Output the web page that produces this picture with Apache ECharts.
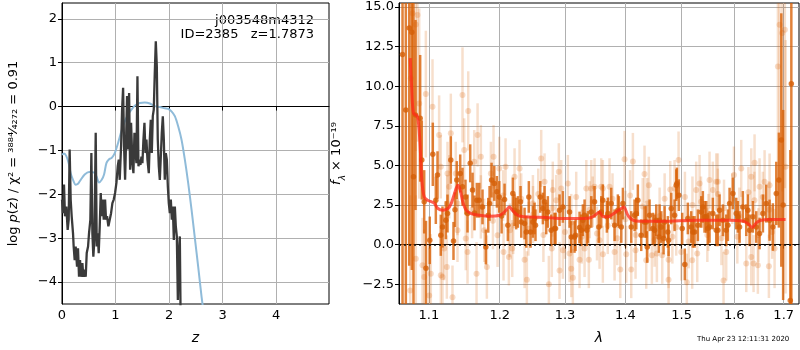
<!DOCTYPE html>
<html lang="en">
<head>
<meta charset="UTF-8">
<title>j003548m4312 ID=2385</title>
<script src="https://cdn.jsdelivr.net/npm/echarts@6.0.0/dist/echarts.min.js"></script>
</head>
<body style="margin:0">
<div id="container" style="width:800px;height:350px"></div>
<script>
// left panel: log p(z) from chi2 (dark) and smooth prior-weighted curve (blue)
var zChi = [0, 0.019, 0.037, 0.056, 0.081, 0.106, 0.125, 0.143, 0.162, 0.181, 0.206, 0.218, 0.237, 0.256, 0.281, 0.299,
    0.318, 0.337, 0.356, 0.381, 0.399, 0.418, 0.443, 0.462, 0.487, 0.505, 0.530, 0.549, 0.568, 0.586, 0.605, 0.630,
    0.649, 0.667, 0.686, 0.705, 0.724, 0.742, 0.761, 0.780, 0.805, 0.823, 0.842, 0.867, 0.892, 0.917, 0.942, 0.967,
    0.992, 1.017, 1.042, 1.061, 1.079, 1.104, 1.123, 1.142, 1.160, 1.179, 1.198, 1.216, 1.235, 1.254, 1.273, 1.291,
    1.316, 1.335, 1.354, 1.372, 1.391, 1.410, 1.429, 1.447, 1.466, 1.485, 1.503, 1.522, 1.541, 1.560, 1.578, 1.597,
    1.622, 1.641, 1.659, 1.678, 1.697, 1.715, 1.734, 1.753, 1.772, 1.790, 1.809, 1.828, 1.847, 1.865, 1.884, 1.903,
    1.921, 1.940, 1.959, 1.978, 1.996, 2.015, 2.034, 2.052, 2.071, 2.090, 2.109, 2.127, 2.146, 2.165, 2.184, 2.202,
    2.215, 2.25, 2.3];
var logpChi = [-2.12, -2.43, -1.78, -2.5, -2.28, -2.81, -2.58, -0.98, -2.12, -2.5, -2.89, -3.19, -3.5, -3.19, -3.65, -3.23,
    -3.88, -3.5, -3.88, -3.57, -3.88, -3.72, -3.88, -3.34, -3.19, -2.89, -2.58, -1.06, -2.89, -3.42, -3.04, -0.6,
    -3.19, -2.89, -3.34, -2.73, -1.97, -2.5, -2.12, -2.58, -2.12, -2.58, -2.5, -2.73, -2.58, -2.43, -2.2, -2.12,
    -1.97, -1.74, -1.36, -1.21, -1.67, -0.91, -0.07, 0.43, -0.91, -1.67, -0.75, 0.24, -0.98, 0.31, -1.44, -0.37,
    -1.29, -1.52, -0.6, -0.98, -1.29, 0.69, -1.36, -1.21, -1.33, -1.14, -1.29, -0.75, -0.37, -1.06, -0.75, -1.21,
    -1.52, -0.75, -0.3, -1.06, -0.22, -0.07, 0.77, 1.49, 0.92, -0.75, -1.36, -1.67, -1.14, -0.6, -0.22, -0.75,
    -1.67, -1.06, -1.21, -1.82, -2.2, -2.43, -2.12, -2.58, -2.28, -3.04, -2.28, -2.73, -2.96, -4.41, -3.34, -2.96,
    -4.6, -6, -8];
var zPrior = [0, 0.037, 0.081, 0.125, 0.162, 0.206, 0.256, 0.299, 0.349, 0.424, 0.505, 0.593, 0.643, 0.692, 0.742,
    0.786, 0.830, 0.880, 0.930, 0.986, 1.048, 1.111, 1.173, 1.235, 1.298, 1.360, 1.454, 1.547, 1.641, 1.734, 1.828,
    1.921, 1.984, 2.046, 2.109, 2.171, 2.233, 2.296, 2.358, 2.421, 2.483, 2.545, 2.608, 2.640, 2.7, 2.8];
var logpPrior = [-1.1, -1.07, -1.13, -1.29, -1.52, -1.67, -1.78, -1.76, -1.67, -1.55, -1.49, -1.5, -1.59, -1.73, -1.67,
    -1.55, -1.29, -1.2, -1.17, -1.06, -0.83, -0.56, -0.34, -0.18, -0.07, 0.02, 0.08, 0.09, 0.07, 0.01, -0.01,
    -0.04, -0.05, -0.11, -0.22, -0.45, -0.75, -1.21, -1.74, -2.35, -3.0, -3.65, -4.33, -4.64, -5.3, -6.5];
var zTicks = [0, 1, 2, 3, 4];
var logpTicks = [-4, -3, -2, -1, 0, 1, 2];

// right panel: spectrum points (dark / faint), their errors, and the model
var wDark = [1.0651, 1.0694, 1.0739, 1.0773, 1.0795, 1.0822, 1.0884, 1.0906, 1.0938, 1.0962, 1.1013, 1.1054, 1.1095,
    1.1118, 1.1163, 1.1186, 1.1232, 1.1255, 1.1301, 1.1338, 1.1384, 1.1432, 1.1464, 1.1535, 1.1573, 1.1606, 1.1668,
    1.1702, 1.1749, 1.1797, 1.1832, 1.1880, 1.1920, 1.1958, 1.1993, 1.2071, 1.2120, 1.2194, 1.2220, 1.2270, 1.2310,
    1.2371, 1.2436, 1.2462, 1.2498, 1.2538, 1.2611, 1.2678, 1.2729, 1.2782, 1.2834, 1.2913, 1.2966, 1.3073, 1.3100,
    1.3153, 1.3234, 1.3262, 1.3316, 1.3370, 1.3426, 1.3480, 1.3551, 1.3591, 1.3618, 1.3702, 1.3815, 1.3871, 1.3929,
    1.3957, 1.4100, 1.4158, 1.4215, 1.4274, 1.4332, 1.4380, 1.4421, 1.4480, 1.4540, 1.4587, 1.4630, 1.4689, 1.4761,
    1.4810, 1.4870, 1.4912, 1.4948, 1.5010, 1.5058, 1.5114, 1.5177, 1.5239, 1.5301, 1.5365, 1.5395, 1.5459, 1.5522,
    1.5585, 1.5650, 1.5714, 1.5778, 1.5843, 1.5908, 1.5973, 1.6039, 1.6104, 1.6169, 1.6237, 1.6303, 1.6369, 1.6437,
    1.6504, 1.6572, 1.6640, 1.6708, 1.6776, 1.6846, 1.6900, 1.6950, 1.6988, 1.7138, 1.7160,
    1.2245, 1.2321, 1.2397, 1.2523, 1.2652, 1.2704, 1.2850, 1.3169, 1.3288, 1.3354, 1.3685, 1.3759, 1.3888, 1.4188,
    1.4362, 1.4510, 1.4599, 1.4671, 1.4748, 1.4901, 1.5207, 1.5427, 1.5490, 1.5681, 1.5875, 1.6071, 1.6269,
    1.1359, 1.1506, 1.1634, 1.1851, 1.2027];
var fDark = [12.0, 8.5, 13.67, 13.4, 4.28, 8.18, 7.97, 5.34, 2.7, -1.5, 0.27, 5.7, 2.8,
    4.39, 0.59, 1.11, 1.54, 1.96, 5.34, 0.23, 4.07, 4.49, 3.65, 1.96, 5.13, 3.44, 2.8,
    2.8, 2.38, -0.15, 1.85, 4.07, 3.86, 3.33, 3.01, 2.85, 1.22, 3.23, 2.17, 2.06, 2.7,
    1.33, 3.01, 0.8, 1.43, 1.22, 3.01, 2.7, 2.06, 0.9, 1.01, 2.17, 2.38, 2.06, 0.48,
    0.48, 1.08, 0.9, 1.85, 1.11, 2.06, 2.7, 1.11, 2.06, 2.8, 1.96, 1.22, 2.17, 1.11,
    2.59, 1.11, 1.85, 2.8, 0.59, 1.43, -0.15, 1.85, 1.01, 1.54, 0.48, 1.11, 1.43, 0.27,
    2.28, 1.85, 3.86, 3.12, 1.01, -1.25, 1.65, 1.11, 0.8, 1.22, 2.06, 2.38, 1.75, 1.11,
    1.96, 0.9, 2.17, 1.54, 0.9, 2.59, 3.23, 1.96, 1.11, 2.38, 1.54, 0.9, 1.75, 1.11,
    0.7, 1.96, 2.59, 1.54, 1.11, 3.23, 4.07, 6.6, 2.5, -3.53, 10.15,
    1.96, 1.43, 0.8, 1.65, 2.28, 1.65, 1.01, 0.59, 1.54, 0.9, 1.75, 2.59, 2.06, 1.96,
    1.43, 0.9, 1.54, 0.38, 0.8, 3.75, 0.8, 1.75, 1.01, 0.9, 1.22, 1.75, 2.17,
    2.2, 3.0, 2.0, 2.6, 1.8];
var eDark = [20, 20, 15, 15, 12, 6, 4, 2.5, 2, 3, 1.5, 2, 1.5,
    1.5, 1.3, 1.3, 1.2, 1.2, 1.5, 1.2, 1.2, 1.2, 1.2, 1.2, 1.2, 1.1, 1.1,
    1.1, 1.1, 1.1, 1.1, 1.1, 1.1, 1.0, 1.0, 1.0, 1.0, 1.0, 1.0, 1.0, 1.0,
    1.0, 1.0, 1.0, 1.0, 1.0, 1.0, 1.0, 1.0, 1.0, 1.0, 1.0, 1.0, 1.0, 1.0,
    1.0, 1.0, 1.0, 1.0, 1.0, 1.0, 1.0, 1.0, 1.0, 1.0, 1.0, 1.0, 1.0, 1.0,
    1.0, 1.0, 1.0, 1.0, 1.0, 1.0, 1.0, 1.0, 1.0, 1.0, 1.0, 1.0, 1.0, 1.0,
    1.0, 1.0, 1.0, 1.0, 1.0, 1.0, 1.0, 1.0, 1.0, 1.0, 1.0, 1.0, 1.0, 1.0,
    1.0, 1.0, 1.0, 1.0, 1.0, 1.0, 1.0, 1.0, 1.0, 1.0, 1.0, 1.0, 1.0, 1.0,
    1.0, 1.2, 1.2, 1.3, 1.5, 2, 3, 8, 6, 9.5, 15,
    1.0, 1.0, 1.0, 1.0, 1.0, 1.0, 1.0, 1.0, 1.0, 1.0, 1.0, 1.0, 1.0, 1.0,
    1.0, 1.0, 1.0, 1.0, 1.0, 1.0, 1.0, 1.0, 1.0, 1.0, 1.0, 1.0, 1.0,
    1.1, 1.1, 1.1, 1.1, 1.1];

var wLight = [1.0752, 1.0760, 1.0782, 1.0826, 1.0826, 1.0848, 1.0871, 1.0915, 1.0938, 1.0960, 1.1005, 1.1027, 1.1050,
    1.1140, 1.1163, 1.1163, 1.1186, 1.1209, 1.1246, 1.1255, 1.1279, 1.1301, 1.1324, 1.1370, 1.1394, 1.1394, 1.1464,
    1.1488, 1.1510, 1.1535, 1.1545, 1.1630, 1.1663, 1.1678, 1.1725, 1.1725, 1.1774, 1.1812, 1.1870, 1.1909, 1.1968,
    1.1993, 1.2056, 1.2086, 1.2135, 1.2185, 1.2220, 1.2295, 1.2371, 1.2406, 1.2498, 1.2626, 1.2678, 1.2745, 1.2791,
    1.2807, 1.2902, 1.2913, 1.2940, 1.2966, 1.3046, 1.3073, 1.3100, 1.3126, 1.3234, 1.3316, 1.3386, 1.3426, 1.3480,
    1.3563, 1.3591, 1.3618, 1.3730, 1.3815, 1.3912, 1.3985, 1.4014, 1.4100, 1.4129, 1.4175, 1.4332, 1.4362, 1.4408,
    1.4462, 1.4551, 1.4647, 1.4761, 1.4761, 1.4791, 1.4870, 1.4943, 1.4992, 1.5095, 1.5195, 1.5270, 1.5289, 1.5333,
    1.5522, 1.5585, 1.5650, 1.5791, 1.5843, 1.5993, 1.6137, 1.6237, 1.6337, 1.6337, 1.6383, 1.6403, 1.6470, 1.6504,
    1.6606, 1.6694, 1.6708, 1.6811, 1.6879, 1.6914, 1.6970, 1.7024, 1.7039,
    1.125, 1.16, 1.19, 1.22, 1.25, 1.28, 1.31, 1.34, 1.37, 1.40, 1.43, 1.46, 1.49, 1.52, 1.55, 1.58, 1.61, 1.64, 1.67,
    1.205, 1.215, 1.232, 1.243, 1.258, 1.266, 1.286, 1.300, 1.318, 1.327, 1.345, 1.352, 1.378, 1.386, 1.408, 1.418,
    1.438, 1.451, 1.469, 1.483, 1.506, 1.513, 1.536, 1.548, 1.568, 1.575, 1.596, 1.606, 1.628, 1.648, 1.657, 1.676,
    1.3344, 1.3618, 1.5681];
var fLight = [-2.89, 10.5, 14.6, 13.9, -0.89, 14.5, 8.9, -1.31, -2.05, 9.5, -3.21, -1.84, 8.7,
    6.92, 4.91, -1.94, -2.05, -0.25, -1.42, 4.49, 3.65, 7.03, -3.32, 4.49, 0.9, 2.59, 9.45,
    5.97, 0.38, -0.47, 8.44, 5.23, -1.84, 6.92, 5.54, 2.38, 0.9, -1.42, 4.49, 5.54, 0.59,
    4.81, -0.47, 4.91, -0.78, -0.25, 4.28, 4.81, -0.95, -2.22, 2.59, 5.44, 3.96, -2.51, -0.25,
    3.44, 4.6, -1.63, 3.54, -0.36, 3.86, -0.57, -1.52, -2.09, -0.95, -0.25, -0.95, 3.54, 3.65,
    0.27, 3.65, -0.61, 3.65, -0.47, -1.58, 5.38, -0.61, -1.58, 5.25, -0.36, 4.45, -0.99, 3.75,
    -0.68, -0.57, -0.68, -2.22, -0.95, 3.48, 3.54, 5.34, -0.47, -2.37, -0.99, 3.44, -0.57, 3.86,
    4.07, 3.44, 3.96, -2.26, -0.47, 4.39, 4.81, -1.2, 4.28, -0.78, -1.2, 5.16, -1.31, 3.65,
    3.96, -1.37, 3.75, -0.25, 11.24, 13.88, 13.35, 13.56, 4.91,
    2.6, 2.2, 1.5, 1.2, 1.9, 2.3, 1.4, 2.2, 1.2, 1.6, 2.4, 1.8, 1.1, 2.5, 1.4, 2.3, 1.8, 2.8, 2.2,
    3.1, 0.9, 2.9, 1.0, 3.2, 0.6, 2.8, 0.8, 3.0, 0.5, 2.7, 0.7, 2.9, 0.4, 3.1, 0.6,
    2.6, 0.3, 2.9, 0.5, 3.0, 0.2, 2.7, 0.6, 3.2, 0.4, 2.9, 0.5, 3.3, 0.6, 3.0, 0.8,
    3.54, 3.54, 3.96];
var eLight = [6, 8, 8, 8, 4, 8, 6, 3, 3, 4, 3, 2.5, 3,
    2.5, 2, 2, 2, 2, 2, 2, 2, 2.5, 2, 2, 2, 2, 3,
    2, 2, 2, 2.5, 2, 2, 2, 2, 2, 2, 2, 2, 2, 2,
    2, 1.8, 1.8, 1.8, 1.8, 1.8, 1.8, 1.8, 1.8, 1.8, 1.8, 1.8, 1.8, 1.8,
    1.8, 1.8, 1.8, 1.8, 1.8, 1.8, 1.8, 1.8, 1.8, 1.8, 1.8, 1.8, 1.8, 1.8,
    1.8, 1.8, 1.8, 1.8, 1.8, 1.8, 1.8, 1.8, 1.8, 1.8, 1.8, 1.8, 1.8, 1.8,
    1.8, 1.8, 1.8, 1.8, 1.8, 1.8, 1.8, 1.8, 1.8, 1.8, 1.8, 1.8, 1.8, 1.8,
    1.8, 1.8, 1.8, 1.8, 1.8, 1.8, 1.8, 1.8, 1.8, 1.8, 1.8, 1.8, 1.8, 1.8,
    2, 2, 2, 2.5, 10, 10, 10, 10, 8,
    1.8, 1.8, 1.8, 1.8, 1.8, 1.8, 1.8, 1.8, 1.8, 1.8, 1.8, 1.8, 1.8, 1.8, 1.8, 1.8, 1.8, 1.8, 1.8,
    1.6, 1.7, 1.6, 1.7, 1.6, 1.7, 1.6, 1.7, 1.6, 1.7, 1.6, 1.7, 1.6, 1.7, 1.6, 1.7,
    1.6, 1.7, 1.6, 1.7, 1.6, 1.7, 1.6, 1.7, 1.6, 1.7, 1.6, 1.7, 1.6, 1.7, 1.6, 1.7,
    1.8, 1.8, 1.8];

var wModel = [1.0752, 1.0769, 1.0795, 1.0848, 1.0879, 1.0906, 1.0938, 1.0983, 1.1069, 1.1123, 1.1190, 1.1260, 1.1306,
    1.1352, 1.1398, 1.1432, 1.1468, 1.1516, 1.1587, 1.1706, 1.1851, 1.1997, 1.2071, 1.2145, 1.2185, 1.2270, 1.2397,
    1.2704, 1.2966, 1.3288, 1.3426, 1.3508, 1.3563, 1.3618, 1.3702, 1.3815, 1.3929, 1.3973, 1.4042, 1.4129, 1.4245,
    1.4659, 1.5271, 1.5908, 1.6169, 1.6269, 1.6357, 1.6437, 1.6539, 1.6708, 1.7039];
var fModel = [11.77, 10.08, 8.3, 8.08, 6.6, 4.07, 3.01, 2.8, 2.63, 2.28, 2.17, 2.28, 2.59,
    3.23, 3.75, 3.44, 2.7, 2.17, 1.96, 1.85, 1.79, 1.85, 2.06, 2.38, 2.17, 1.85, 1.75,
    1.71, 1.65, 1.65, 1.71, 1.92, 2.06, 1.75, 1.75, 2.0, 2.28, 2.38, 1.85, 1.54, 1.47,
    1.47, 1.54, 1.54, 1.49, 1.33, 1.08, 1.37, 1.54, 1.58, 1.58];
var wTicks = [1.1, 1.2, 1.3, 1.4, 1.5, 1.6, 1.7];
var fTicks = [-2.5, 0, 2.5, 5, 7.5, 10, 12.5, 15];

var dom = document.getElementById("container");
var myChart = echarts.init(dom);

var FONT = 'DejaVu Sans';
var minus = function (s) { return String(s).replace('-', '\u2212'); };

var zip2 = function (a, b) {
    return a.map(function (v, i) { return [v, b[i]]; });
};
var zip3 = function (a, b, c) {
    return a.map(function (v, i) { return [v, b[i], c[i]]; });
};

// vertical error bar, clipped to the plotting area
var errBar = function (color, width) {
    return function (params, api) {
        var x = api.value(0), y = api.value(1), e = api.value(2);
        var cs = params.coordSys;
        var pts = echarts.graphic.clipPointsByRect(
            [api.coord([x, y - e]), api.coord([x, y + e])],
            {x: cs.x, y: cs.y, width: cs.width, height: cs.height});
        return {
            type: 'line',
            shape: {x1: pts[0][0], y1: pts[0][1], x2: pts[1][0], y2: pts[1][1]},
            style: {stroke: color, lineWidth: width}
        };
    };
};

var grid = {color: '#b0b0b0', width: 1};
var tickLabel = {color: '#000', fontSize: 13, fontFamily: FONT, margin: 5};
var tick = {length: 4, lineStyle: {color: '#000'}};

option = {
    animation: false,
    backgroundColor: '#fff',
    grid: [
        {left: 62, right: 471, top: 3, bottom: 46, show: true, borderColor: '#000', borderWidth: 1},
        {left: 399, right: 1, top: 3, bottom: 46, show: true, borderColor: '#000', borderWidth: 1}
    ],
    xAxis: [
        {
            type: 'value', gridIndex: 0, min: 0, max: 4.99,
            axisLine: {lineStyle: {color: '#000'}},
            axisTick: Object.assign({customValues: zTicks}, tick),
            axisLabel: Object.assign({customValues: zTicks, formatter: function (v) { return minus(v); }}, tickLabel),
            splitLine: {show: true, lineStyle: grid},
            name: '{i|z}', nameLocation: 'middle', nameGap: 27,
            nameTextStyle: {rich: {i: {fontSize: 14, fontStyle: 'italic', fontFamily: FONT, color: '#000'}}}
        },
        {
            type: 'log', logBase: 10, gridIndex: 1, min: 1.0605, max: 1.7322,
            axisLine: {lineStyle: {color: '#000'}},
            axisTick: Object.assign({customValues: wTicks}, tick),
            axisLabel: Object.assign({customValues: wTicks, formatter: function (v) { return (+v).toFixed(1); }}, tickLabel),
            splitLine: {show: true, lineStyle: grid},
            name: '{i|λ}', nameLocation: 'middle', nameGap: 27,
            nameTextStyle: {rich: {i: {fontSize: 14, fontStyle: 'italic', fontFamily: FONT, color: '#000'}}}
        }
    ],
    yAxis: [
        {
            type: 'value', gridIndex: 0, min: -4.5, max: 2.36,
            axisLine: {show: true, lineStyle: {color: '#000'}},
            axisTick: Object.assign({show: true, customValues: logpTicks}, tick),
            axisLabel: Object.assign({customValues: logpTicks, formatter: function (v) { return minus(v); }}, tickLabel),
            splitLine: {show: true, lineStyle: grid},
            name: '{r|log }{i|p}{r|(}{i|z}{r|) / χ² = ³⁸⁸⁴⁄₄₂₇₂ = 0.91}',
            nameLocation: 'middle', nameGap: 42,
            nameTextStyle: {rich: {
                r: {fontSize: 13, fontFamily: FONT, color: '#000'},
                i: {fontSize: 13, fontStyle: 'italic', fontFamily: FONT, color: '#000'}
            }}
        },
        {
            type: 'value', gridIndex: 1, min: -3.75, max: 15.25,
            axisLine: {show: true, lineStyle: {color: '#000'}},
            axisTick: Object.assign({show: true, customValues: fTicks}, tick),
            axisLabel: Object.assign({customValues: fTicks, formatter: function (v) { return minus((+v).toFixed(1)); }}, tickLabel),
            splitLine: {show: true, lineStyle: grid},
            name: '{i|f}{s|λ}{r| × 10⁻¹⁹}',
            nameLocation: 'middle', nameGap: 52,
            nameTextStyle: {rich: {
                r: {fontSize: 13, fontFamily: FONT, color: '#000'},
                i: {fontSize: 13, fontStyle: 'italic', fontFamily: FONT, color: '#000'},
                s: {fontSize: 9, fontStyle: 'italic', fontFamily: FONT, color: '#000', verticalAlign: 'bottom', lineHeight: 20}
            }}
        }
    ],
    series: [
        {
            type: 'line', xAxisIndex: 0, yAxisIndex: 0, data: zip2(zPrior, logpPrior),
            showSymbol: false, smooth: 0.3, lineStyle: {color: '#8fbbd9', width: 2}, z: 2
        },
        {
            type: 'line', xAxisIndex: 0, yAxisIndex: 0, data: zip2(zChi, logpChi),
            showSymbol: false, lineStyle: {color: '#3a3a3a', width: 2.3}, z: 3
        },
        {
            type: 'custom', xAxisIndex: 1, yAxisIndex: 1, data: zip3(wLight, fLight, eLight),
            renderItem: errBar('rgba(217,95,2,0.2)', 2.5), encode: {x: 0, y: 1}, z: 2
        },
        {
            type: 'scatter', xAxisIndex: 1, yAxisIndex: 1, data: zip2(wLight, fLight),
            symbolSize: 6, itemStyle: {color: 'rgba(217,95,2,0.28)'}, z: 2
        },
        {
            type: 'custom', xAxisIndex: 1, yAxisIndex: 1, data: zip3(wDark, fDark, eDark),
            renderItem: errBar('rgba(217,95,2,0.78)', 2.5), encode: {x: 0, y: 1}, z: 3
        },
        {
            type: 'scatter', xAxisIndex: 1, yAxisIndex: 1, data: zip2(wDark, fDark),
            symbolSize: 5.5, itemStyle: {color: '#d45f08'}, z: 3
        },
        {
            type: 'line', xAxisIndex: 1, yAxisIndex: 1, data: zip2(wModel, fModel),
            showSymbol: false, smooth: 0.3, lineStyle: {color: '#ff2a1a', width: 3, opacity: 0.75}, z: 4,
            markLine: {
                silent: true, symbol: 'none', label: {show: false},
                lineStyle: {color: '#111', type: [2, 3], width: 1.5},
                data: [{yAxis: 0}]
            }
        }
    ],
    graphic: [
        {type: 'text', x: 314, y: 21, style: {text: 'j003548m4312', align: 'right', verticalAlign: 'middle', fontSize: 13, fontFamily: FONT, fill: '#000'}},
        {type: 'text', x: 314, y: 35, style: {text: 'ID=2385   z=1.7873', align: 'right', verticalAlign: 'middle', fontSize: 13, fontFamily: FONT, fill: '#000'}},
        {type: 'text', x: 697, y: 339, style: {text: 'Thu Apr 23 12:11:31 2020', verticalAlign: 'middle', fontSize: 7, fontFamily: FONT, fill: '#000'}}
    ]
};

if (option && typeof option === "object") {
    myChart.setOption(option, true);
}
</script>
</body>
</html>
